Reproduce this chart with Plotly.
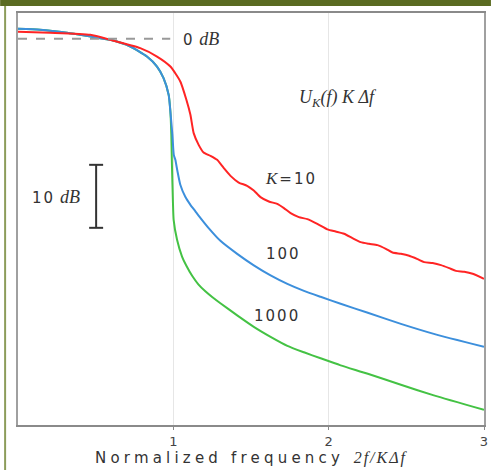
import plotly.graph_objects as go

# Normalized frequency 2f/(K*df) and level in dB
red_x = [0, 0.206, 0.465, 0.594, 0.787, 0.895, 0.981, 1.045, 1.084, 1.110, 1.131,
         1.163, 1.195, 1.239, 1.282, 1.325, 1.368, 1.421, 1.475, 1.518, 1.561, 1.615,
         1.669, 1.712, 1.755, 1.808, 1.863, 1.927, 1.992, 2.045, 2.099, 2.153, 2.206,
         2.26, 2.314, 2.368, 2.411, 2.465, 2.518, 2.572, 2.615, 2.669, 2.723, 2.776,
         2.819, 2.873, 2.927, 3.0]
red_y = [1.11, 0.95, 0.63, -0.16, -1.48, -2.81, -4.40, -6.78, -9.68, -12.06, -14.97,
         -16.83, -18.05, -18.57, -19.21, -20.52, -21.75, -22.81, -23.33, -24.08, -25.13,
         -25.83, -26.19, -26.87, -27.67, -28.3, -28.62, -29.37, -30.24, -30.59, -30.95,
         -31.63, -32.27, -32.54, -32.75, -33.33, -33.92, -34.13, -34.44, -34.97, -35.44,
         -35.6, -35.92, -36.4, -36.83, -36.98, -37.3, -38.1]

blue_x = [0, 0.142, 0.316, 0.465, 0.594, 0.723, 0.830, 0.895, 0.937, 0.970, 0.981,
          0.994, 1.003, 1.013, 1.026, 1.045, 1.077, 1.110, 1.142, 1.174, 1.226, 1.303,
          1.411, 1.518, 1.626, 1.734, 1.841, 1.948, 2.077, 2.252, 2.465, 2.677, 3.0]
blue_y = [1.59, 1.43, 0.95, 0.37, -0.16, -1.22, -2.81, -4.40, -6.24, -8.89, -11.54,
          -15.24, -18.41, -19.21, -20.95, -23.17, -25.08, -26.35, -27.38, -28.41, -30.0,
          -32.06, -34.13, -35.95, -37.54, -38.89, -40.0, -40.95, -42.06, -43.49, -45.24,
          -46.83, -48.89]

green_x = [0, 0.142, 0.316, 0.465, 0.594, 0.723, 0.830, 0.895, 0.937, 0.970, 0.981,
           0.987, 0.991, 0.997, 1.002, 1.024, 1.056, 1.084, 1.121, 1.161, 1.206, 1.252,
           1.303, 1.411, 1.518, 1.626, 1.734, 1.841, 1.948, 2.077, 2.252, 2.465, 2.677,
           3.0]
green_y = [1.59, 1.43, 0.95, 0.37, -0.16, -1.22, -2.81, -4.40, -6.24, -8.89, -11.54,
           -15.24, -20.0, -25.56, -28.73, -31.90, -34.56, -36.03, -37.62, -38.97, -40.08,
           -41.03, -41.98, -43.89, -45.71, -47.30, -48.73, -49.76, -50.71, -51.83, -53.17,
           -54.92, -56.59, -58.89]

x_ticks = [1, 2, 3]
scale_bar_db = [-20, -30]

fig = go.Figure()

for xs, ys, col in [(green_x, green_y, "#44c244"),
                    (blue_x, blue_y, "#3c8fdc"),
                    (red_x, red_y, "#ff2424")]:
    fig.add_trace(go.Scatter(x=xs, y=ys, mode="lines",
                             line=dict(color=col, width=2, shape="spline", smoothing=0.55),
                             showlegend=False, hoverinfo="skip"))

# 0 dB reference and 10 dB scale bar
fig.add_shape(type="line", x0=0, x1=0.98, y0=0, y1=0,
              line=dict(color="#999999", width=2, dash="dash"))
fig.add_shape(type="line", x0=0.503, x1=0.503, y0=scale_bar_db[0], y1=scale_bar_db[1],
              line=dict(color="#333333", width=2))
for yv in scale_bar_db:
    fig.add_shape(type="line", x0=0.458, x1=0.548, y0=yv, y1=yv,
                  line=dict(color="#333333", width=2))

SERIF = "Liberation Serif, DejaVu Serif, serif"
SANS = "DejaVu Sans, Verdana, sans-serif"
TXT = "#333333"
SP = "<span style='letter-spacing:2px'>"
DB = "<i style='font-family:Liberation Serif;font-size:18px'>dB</i>"

labels = [
    (1.05, 0, SP + "0</span> " + DB, "left", SANS, 15),
    (2.06, -9.4, "<i>U<sub>K</sub>(f) K Δf</i>", "center", SERIF, 18),
    (1.755, -22.1, SP + "<i style='font-family:Liberation Serif;font-size:17px'>K</i>=10</span>",
     "center", SANS, 15),
    (1.71, -34.1, SP + "100</span>", "center", SANS, 15),
    (1.67, -44.0, SP + "1000</span>", "center", SANS, 15),
    (0.245, -25.1, SP + "10</span> " + DB, "center", SANS, 15),
]
for x, y, t, anc, fam, size in labels:
    fig.add_annotation(x=x, y=y, text=t, showarrow=False, xanchor=anc, yanchor="middle",
                       font=dict(family=fam, size=size, color=TXT))

# x-axis title, placed by hand below the tick labels
fig.add_annotation(xref="paper", yref="paper", x=0.5, y=-0.080, yanchor="middle",
                   showarrow=False,
                   text="<span style='letter-spacing:4.2px'>Normalized frequency</span>"
                        "  <i style='font-family:Liberation Serif;font-size:16px;"
                        "letter-spacing:2px'>2f/KΔf</i>",
                   font=dict(family=SANS, size=15, color=TXT))

# page frame: olive bar on top, thin line on the left
W, H = 495, 470
ML, MR, MT, MB = 18, 7, 13, 45
pw, ph = W - ML - MR, H - MT - MB
def px(v):
    return (v - ML) / pw
def py(v):
    return 1 - (v - MT) / ph
fig.add_shape(type="rect", xref="paper", yref="paper", x0=px(0), x1=px(W),
              y0=py(6), y1=py(0), fillcolor="#5a6b21", line_width=0, layer="above")
fig.add_shape(type="rect", xref="paper", yref="paper", x0=px(4), x1=px(6),
              y0=py(H), y1=py(6), fillcolor="#8c9c5a", line_width=0, layer="above")

fig.update_layout(
    width=W, height=H,
    margin=dict(l=ML, r=MR, t=MT, b=MB),
    paper_bgcolor="white", plot_bgcolor="white",
    font=dict(family=SANS, size=14, color=TXT),
)
fig.update_xaxes(range=[0, 3], tickvals=x_ticks, ticktext=[str(v) for v in x_ticks],
                 showgrid=True, gridcolor="#e6e6e6", gridwidth=1, zeroline=False,
                 showline=True, linecolor="#8a8a8a", linewidth=2, mirror=True,
                 ticks="outside", ticklen=3, tickcolor="#8a8a8a",
                 tickfont=dict(family=SANS, size=13, color="#444444"))
fig.update_yaxes(range=[-61.3, 4.1], showticklabels=False, showgrid=False,
                 zeroline=False, showline=True, linecolor="#a0a0a0", linewidth=2,
                 mirror=True, ticks="")

# drop the page's default body margin so the figure sits at the window corner
fig.write_html("out.html", config={"displayModeBar": False},
               post_script="document.body.style.margin='0px';")
